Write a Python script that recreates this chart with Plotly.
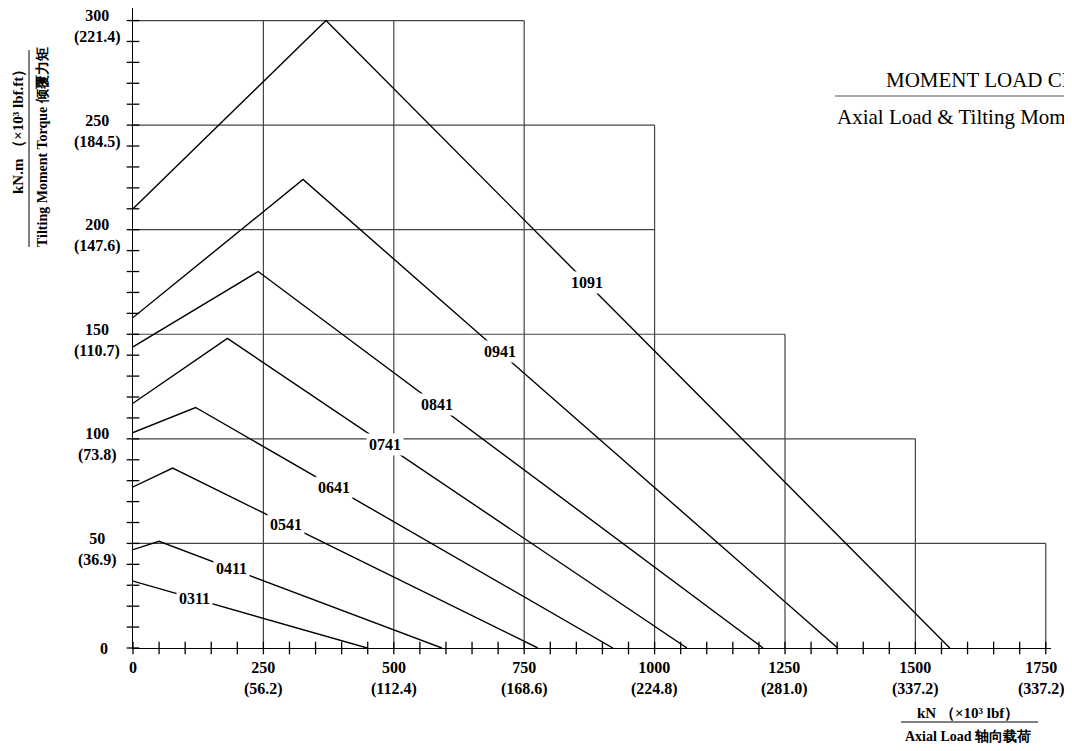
import numpy as np
import plotly.graph_objects as go

# bearing series and their limit curves (axial kN vs tilting moment kN.m)
SERIES = ["0311", "0411", "0541", "0641", "0741", "0841", "0941", "1091"]
START_M = [32, 47, 77, 103, 117, 144, 158, 210]
PEAK_F = [0, 50, 76, 120, 181, 240, 326, 370]
PEAK_M = [32, 51, 86, 115, 148, 180, 224, 300]
END_F = [449, 592, 776, 920, 1062, 1208, 1351, 1566]
LABEL_F = [117, 189, 294, 385, 483, 583, 703, 870]

# axis ticks
X_TICKS = [0, 250, 500, 750, 1000, 1250, 1500, 1750]
X_IMPERIAL = ["", "56.2", "112.4", "168.6", "224.8", "281.0", "337.2", "337.2"]
Y_TICKS = [0, 50, 100, 150, 200, 250, 300]
Y_IMPERIAL = ["", "36.9", "73.8", "110.7", "147.6", "184.5", "221.4"]
X_MINOR = list(range(0, 1751, 50))
Y_MINOR = list(range(0, 301, 10))

# stepped grid
H_LEVELS = [50, 100, 150, 200, 250, 300]
H_EXTENT = [1750, 1500, 1250, 1000, 1000, 750]
V_LEVELS = [250, 500, 750, 1000, 1250, 1500, 1750]
V_TOP = [300, 300, 300, 250, 150, 100, 50]

FONT = "Liberation Serif"
OFF = 8  # page body margin
W, H = 1072 - 2 * OFF, 751 - 2 * OFF
M_L, M_R, M_T, M_B = 125, 13, 0, 95


def px(x, y):
    """screen pixel position -> paper coords"""
    pw = W - M_L - M_R
    ph = H - M_T - M_B
    return (x - OFF - M_L) / pw, (H - M_B - (y - OFF)) / ph


def note(x, y, text, size=15, bold=True, **kw):
    ax, ay = px(x, y)
    fig.add_annotation(xref="paper", yref="paper", x=ax, y=ay, text=text,
                       showarrow=False, xanchor=kw.pop("xanchor", "center"),
                       yanchor="middle",
                       font=dict(family=FONT, size=size, color="black",
                                 weight="bold" if bold else "normal"), **kw)


def rule(xa, ya, xb, yb, color="black", width=1):
    x0, y0 = px(xa, ya)
    x1, y1 = px(xb, yb)
    fig.add_shape(type="line", xref="paper", yref="paper", x0=x0, y0=y0, x1=x1, y1=y1,
                  line=dict(color=color, width=width))


fig = go.Figure()

# grid
gx, gy = [], []
for lv, ext in zip(H_LEVELS, H_EXTENT):
    gx += [0, ext, None]
    gy += [lv, lv, None]
for lv, top in zip(V_LEVELS, V_TOP):
    gx += [lv, lv, None]
    gy += [0, top, None]
fig.add_trace(go.Scatter(x=gx, y=gy, mode="lines",
                         line=dict(color="#444", width=1.2),
                         hoverinfo="skip", showlegend=False))

# curves
for name, m0, pf, pm, ef, lf in zip(SERIES, START_M, PEAK_F, PEAK_M, END_F, LABEL_F):
    xs = [0, pf, ef]
    ys = [m0, pm, 0]
    fig.add_trace(go.Scatter(x=xs, y=ys, mode="lines",
                             line=dict(color="black", width=1.4),
                             name=name, showlegend=False))
    fig.add_annotation(x=lf, y=float(np.interp(lf, xs[1:], ys[1:])), text=name,
                       showarrow=False, bgcolor="white", borderpad=2,
                       font=dict(family=FONT, size=16, color="black", weight="bold"))

# crossing ticks
fig.add_trace(go.Scatter(x=X_MINOR, y=[0] * len(X_MINOR), mode="markers",
                         marker=dict(symbol="line-ns", size=9,
                                     line=dict(color="black", width=1.3)),
                         cliponaxis=False, hoverinfo="skip", showlegend=False))
fig.add_trace(go.Scatter(x=[0] * len(Y_MINOR), y=Y_MINOR, mode="markers",
                         marker=dict(symbol="line-ew", size=9,
                                     line=dict(color="black", width=1.3)),
                         cliponaxis=False, hoverinfo="skip", showlegend=False))

tick_font = dict(family=FONT, size=16, color="black", weight="bold")

# y tick labels (centred two-line blocks)
for v, imp in zip(Y_TICKS, Y_IMPERIAL):
    txt = f"{v}<br>({imp})" if imp else f"{v}"
    fig.add_annotation(x=0, y=v, text=txt, showarrow=False, xanchor="center",
                       xshift=-36 if imp else -29, yshift=-6 if imp else 0,
                       font=tick_font)

# x tick labels (centred two-line blocks)
for i, (v, imp) in enumerate(zip(X_TICKS, X_IMPERIAL)):
    txt = f"{v}<br>({imp})" if imp else f"{v}"
    fig.add_annotation(x=v, y=0, text=txt, showarrow=False, xanchor="center",
                       yanchor="middle", yshift=-30 if imp else -19,
                       xshift=-4 if i == len(X_TICKS) - 1 else 0,
                       font=tick_font)

# axis titles
note(18, 128, "kN.m （×10³ lbf.ft）", size=15, textangle=-90)
note(42, 147, "Tilting Moment Torque 倾覆力矩", size=14, textangle=-90)
rule(29, 50, 29, 247)

note(968, 713, "kN （×10³ lbf）", size=15)
note(968, 736, "Axial Load 轴向载荷", size=14)
rule(901, 722, 1038, 722)

# chart title (runs off the right edge)
note(884, 80, "MOMENT LOAD CHART", size=21, bold=False, xanchor="left")
note(835, 117, "Axial Load & Tilting Moment", size=21, bold=False, xanchor="left")
rule(835, 96, 1100, 96, color="#555", width=1.2)

fig.update_layout(
    width=W, height=H,
    margin=dict(l=M_L, r=M_R, t=M_T, b=M_B),
    plot_bgcolor="white", paper_bgcolor="white",
    showlegend=False,
    xaxis=dict(range=[0, 1760], showgrid=False, zeroline=False,
               showline=True, linecolor="black", linewidth=1.3,
               showticklabels=False, ticks=""),
    yaxis=dict(range=[0, 306], showgrid=False, zeroline=False,
               showline=True, linecolor="black", linewidth=1.3,
               showticklabels=False, ticks=""),
)

fig.write_html("out.html")
